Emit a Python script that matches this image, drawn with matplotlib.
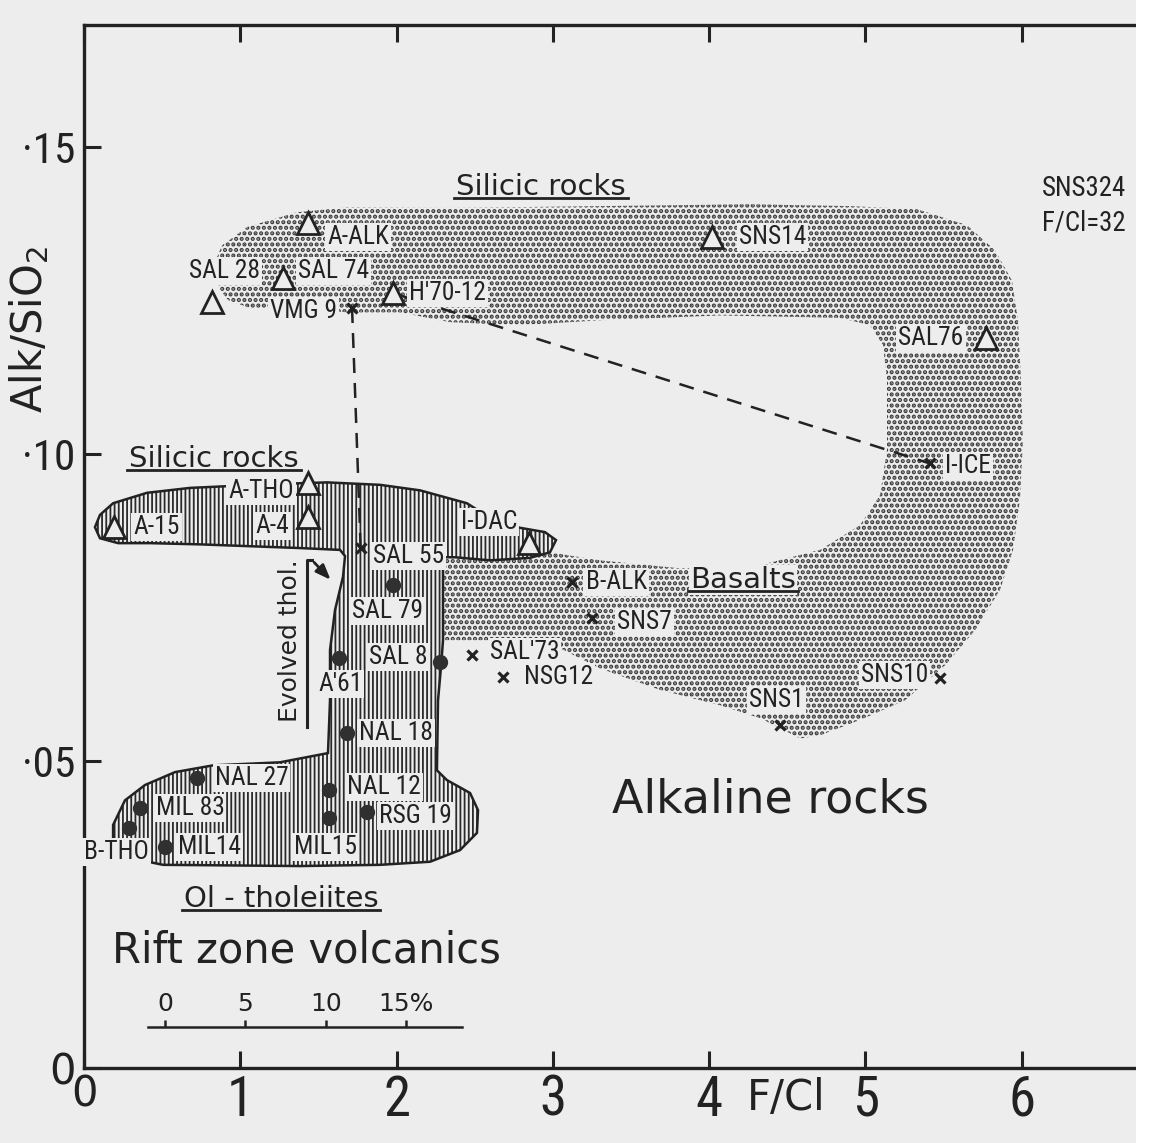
import matplotlib
matplotlib.use("Agg")
import matplotlib.pyplot as plt
from matplotlib import font_manager as fm
from matplotlib.patches import Polygon, Rectangle

# ── narrow lettering for sample names and tick digits ────────────────────────
_fonts = fm.fontManager.ttflist
_names = {f.name for f in _fonts}
if "Liberation Sans Narrow" in _names:
    NARROW, NS = dict(family="Liberation Sans Narrow"), 1.0
elif "Roboto Condensed" in _names:
    NARROW, NS = dict(family="Roboto Condensed"), 0.92
elif any(f.name == "DejaVu Sans" and f.stretch == "condensed" for f in _fonts):
    NARROW, NS = dict(family="DejaVu Sans", stretch="condensed"), 0.82
else:
    NARROW, NS = dict(family="DejaVu Sans"), 0.72
ROUND = "DejaVu Sans"

BG = "#ededed"
INK = "#222222"

# ── data: F/Cl vs Alk/SiO2 ───────────────────────────────────────────────────
tri_names = ["A-ALK", "SAL 28", "SAL 74", "H'70-12", "SNS14", "SAL76",
             "A-15", "A-THO", "A-4", "I-DAC"]
tri_fcl = [1.43, 0.82, 1.27, 1.98, 4.02, 5.77, 0.19, 1.43, 1.43, 2.85]
tri_alk = [0.1376, 0.1248, 0.1287, 0.1262, 0.1353, 0.1189,
           0.0881, 0.0953, 0.0897, 0.0855]

x_names = ["VMG 9", "I-ICE", "SAL 55", "SAL'73", "NSG12", "B-ALK",
           "SNS7", "SNS1", "SNS10"]
x_fcl = [1.715, 5.41, 1.77, 2.48, 2.68, 3.12, 3.25, 4.45, 5.48]
x_alk = [0.1238, 0.0985, 0.0847, 0.0673, 0.0637, 0.0792, 0.0733, 0.0559, 0.0635]

dot_names = ["SAL 79", "A'61", "SAL 8", "NAL 18", "NAL 27", "NAL 12",
             "MIL 83", "RSG 19", "B-THO", "MIL15", "MIL14"]
dot_fcl = [1.98, 1.63, 2.28, 1.68, 0.72, 1.57, 0.36, 1.81, 0.29, 1.57, 0.52]
dot_alk = [0.0787, 0.0668, 0.0661, 0.0546, 0.0472, 0.0453,
           0.0423, 0.0417, 0.0391, 0.0407, 0.0360]

# label offset (points) and alignment per sample
label_pos = {
    "A-ALK": (14, -10, "left"), "SAL 28": (9, 22, "center"),
    "SAL 74": (11, 5, "left"), "VMG 9": (-11, -2, "right"),
    "H'70-12": (11, 0, "left"), "SNS14": (19, 0, "left"),
    "SAL76": (-16, 0, "right"), "I-ICE": (11, -2, "left"),
    "A-15": (14, 0, "left"), "A-THO": (-10, -6, "right"),
    "A-4": (-13, -6, "right"), "I-DAC": (-9, 15, "right"),
    "SAL 55": (9, -6, "left"), "SAL 79": (-4, -19, "center"),
    "A'61": (1, -19, "center"), "SAL 8": (-9, 4, "right"),
    "SAL'73": (13, 2, "left"), "NSG12": (15, 0, "left"),
    "B-ALK": (10, 0, "left"), "SNS7": (18, -3, "left"),
    "SNS1": (-2, 18, "center"), "SNS10": (-9, 2, "right"),
    "NAL 18": (9, 0, "left"), "NAL 27": (13, 0, "left"),
    "NAL 12": (13, 2, "left"), "MIL 83": (11, 0, "left"),
    "RSG 19": (9, -3, "left"), "B-THO": (-9, -17, "center"),
    "MIL15": (-3, -21, "center"), "MIL14": (9, 0, "left"),
}

# stippled field: alkaline rocks (U-shaped band)
alk_fcl = [0.838, 0.883, 1.043, 1.363, 1.683, 2.342, 3.301, 4.261, 4.901, 5.329,
           5.649, 5.829, 5.937, 5.976, 5.995, 6.008, 5.988, 5.944, 5.861, 5.701,
           5.509, 5.253, 4.965, 4.709, 4.581, 4.325, 4.069, 3.685, 3.301, 3.045,
           2.790, 2.297, 2.297, 2.374, 2.598, 2.853, 2.981, 3.301, 3.813, 4.325,
           4.709, 4.965, 5.093, 5.138, 5.138, 5.112, 5.029, 4.837, 4.069, 3.301,
           2.790, 2.342, 2.022, 1.702, 1.382, 1.062, 0.921, 0.851]
alk_alk = [0.1313, 0.1340, 0.1370, 0.1394, 0.1402, 0.1401, 0.1404, 0.1407, 0.1404, 0.1399,
           0.1373, 0.1332, 0.1283, 0.1218, 0.1121, 0.1023, 0.0925, 0.0844, 0.0779, 0.0713,
           0.0656, 0.0599, 0.0567, 0.0542, 0.0537, 0.0570, 0.0591, 0.0616, 0.0651, 0.0684,
           0.0697, 0.0697, 0.0832, 0.0832, 0.0827, 0.0831, 0.0840, 0.0827, 0.0814, 0.0819,
           0.0844, 0.0884, 0.0933, 0.1007, 0.1121, 0.1178, 0.1210, 0.1222, 0.1226, 0.1218,
           0.1210, 0.1215, 0.1231, 0.1231, 0.1235, 0.1238, 0.1251, 0.1275]

# vertically hatched field: rift zone volcanics (T-shaped)
rift_fcl = [0.070, 0.102, 0.186, 0.403, 0.678, 0.934, 1.190, 1.555, 1.894, 2.150,
            2.450, 2.598, 2.790, 2.949, 3.020, 2.981, 2.853, 2.598, 2.374, 2.297,
            2.297, 2.284, 2.265, 2.258, 2.322, 2.470, 2.521, 2.514, 2.406, 2.214,
            1.894, 1.382, 0.505, 0.294, 0.186, 0.186, 0.262, 0.390, 0.582, 0.825,
            1.254, 1.561, 1.574, 1.574, 1.606, 1.657, 1.670, 1.638, 1.382, 1.062,
            0.742, 0.422, 0.218, 0.102]
rift_alk = [0.0881, 0.0901, 0.0920, 0.0937, 0.0945, 0.0948, 0.0951, 0.0954, 0.0950, 0.0941,
            0.0920, 0.0896, 0.0880, 0.0873, 0.0860, 0.0840, 0.0831, 0.0827, 0.0832, 0.0832,
            0.0697, 0.0653, 0.0599, 0.0485, 0.0469, 0.0448, 0.0420, 0.0383, 0.0355, 0.0336,
            0.0331, 0.0329, 0.0331, 0.0342, 0.0371, 0.0396, 0.0436, 0.0461, 0.0482, 0.0493,
            0.0498, 0.0513, 0.0599, 0.0681, 0.0746, 0.0800, 0.0834, 0.0844, 0.0847, 0.0850,
            0.0853, 0.0855, 0.0855, 0.0863]

# group labels: text, F/Cl centre, Alk/SiO2 baseline, size
groups = [
    ("Silicic rocks", 2.924, 0.1422, 21),
    ("Silicic rocks", 0.832, 0.0979, 21),
    ("Basalts", 4.216, 0.0782, 21),
    ("Ol - tholeiites", 1.260, 0.0262, 21),
]

# "Evolved thol." bracket and arrow tip
bracket_fcl = [1.427, 1.427, 1.46]
bracket_alk = [0.0555, 0.0827, 0.0827]
arrow_tip = (1.59, 0.0792)

pct_ticks = [0, 5, 10, 15]
pct_labels = ["0", "5", "10", "15%"]

# ── figure ───────────────────────────────────────────────────────────────────
fig = plt.figure(figsize=(11.51, 11.43), dpi=100, facecolor=BG)
fig.patches.append(Rectangle((0.987, 0), 0.02, 1, transform=fig.transFigure,
                             facecolor="white", edgecolor="none", zorder=0))
ax = fig.add_axes([0.073, 0.0656, 0.927, 0.9125])
ax.set_facecolor("none")
ax.set_xlim(0, 6.827)
ax.set_ylim(0, 0.1699)

with plt.rc_context({"hatch.linewidth": 2.1}):
    stip = Polygon(list(zip(alk_fcl, alk_alk)), closed=True, facecolor="none",
                   edgecolor="#3a3a3a", linewidth=0, hatch="...", zorder=1)
    if hasattr(stip, "set_hatch_linewidth"):
        stip.set_hatch_linewidth(2.1)
ax.add_patch(stip)
with plt.rc_context({"hatch.linewidth": 1.4}):
    rift = Polygon(list(zip(rift_fcl, rift_alk)), closed=True, facecolor="none",
                   edgecolor="#2a2a2a", linewidth=0, hatch="||||", zorder=1)
    if hasattr(rift, "set_hatch_linewidth"):
        rift.set_hatch_linewidth(1.3)
ax.add_patch(rift)
ax.add_patch(Polygon(list(zip(rift_fcl, rift_alk)), closed=True, facecolor="none",
                     edgecolor=INK, linewidth=1.8, zorder=2))

# dashed tie lines
i_h, i_ice = tri_names.index("H'70-12"), x_names.index("I-ICE")
ax.plot([tri_fcl[i_h], x_fcl[i_ice]], [tri_alk[i_h], x_alk[i_ice]],
        color=INK, lw=1.8, ls=(0, (6, 4)), zorder=2)
i_v, i_s = x_names.index("VMG 9"), x_names.index("SAL 55")
ax.plot([x_fcl[i_v], x_fcl[i_s]], [x_alk[i_v], x_alk[i_s]],
        color=INK, lw=1.8, ls=(0, (6, 4)), zorder=2)

# bracket + arrow for evolved tholeiites
ax.plot(bracket_fcl, bracket_alk, color=INK, lw=2.2, zorder=3)
ax.annotate("", xy=arrow_tip, xytext=(bracket_fcl[-1], bracket_alk[-1]),
            arrowprops=dict(arrowstyle="-|>,head_length=0.9,head_width=0.35",
                            color=INK, lw=2.0), zorder=3)
ax.text(1.318, 0.0697, "Evolved thol.", rotation=90, ha="center", va="center",
        fontsize=18, family=ROUND, color=INK, zorder=4)

# markers
ax.plot(tri_fcl, tri_alk, ls="none", marker="^", ms=16, mfc=BG, mec=INK,
        mew=2.0, zorder=5)
ax.plot(x_fcl, x_alk, ls="none", marker="x", ms=7, mec=INK, mew=2.3, zorder=5)
ax.plot(dot_fcl, dot_alk, ls="none", marker="o", ms=10, mfc="#303030",
        mec="#303030", zorder=5)

for names, xs, ys in [(tri_names, tri_fcl, tri_alk), (x_names, x_fcl, x_alk),
                      (dot_names, dot_fcl, dot_alk)]:
    for n, xv, yv in zip(names, xs, ys):
        dx, dy, ha = label_pos[n]
        ax.annotate(n, (xv, yv), xytext=(dx, dy), textcoords="offset points",
                    ha=ha, va="center", fontsize=20 * NS, color=INK, zorder=6,
                    bbox=dict(boxstyle="square,pad=0.08", fc=BG, ec="none"),
                    **NARROW)

ax.text(6.13, 0.1454, "SNS324\nF/Cl=32", ha="left", va="top", fontsize=21 * NS,
        color=INK, linespacing=1.35, zorder=6, **NARROW)

# big field names
ax.text(1.422, 0.01726, "Rift zone volcanics", ha="center", va="baseline",
        fontsize=30, family=ROUND, color=INK)
ax.text(4.395, 0.0417, "Alkaline rocks", ha="center", va="baseline",
        fontsize=33, family=ROUND, color=INK)

group_txt = []
for txt, gx, gy, fs in groups:
    group_txt.append(ax.text(gx, gy, txt, ha="center", va="baseline", fontsize=fs,
                             family=ROUND, color=INK, zorder=6,
                             bbox=dict(boxstyle="square,pad=0.05", fc=BG, ec="none")))

# ── axes styling ─────────────────────────────────────────────────────────────
for s in ["left", "bottom", "top"]:
    ax.spines[s].set_linewidth(2.4)
    ax.spines[s].set_color(INK)
ax.spines["right"].set_visible(False)

ax.set_xticks(range(0, 7))
ax.set_xticklabels([str(v) for v in range(0, 7)])
ax.set_yticks([0, 0.05, 0.10, 0.15])
ax.set_yticklabels(["0", "\u00b705", "\u00b710", "\u00b715"])
ax.tick_params(axis="both", direction="in", length=12, width=2.2, colors=INK)
ax.tick_params(axis="x", top=True, pad=4)
ax.tick_params(axis="y", right=False, pad=6)
for lab in ax.get_xticklabels():
    lab.set_fontsize(43 * NS)
    lab.set(**NARROW)
for lab in ax.get_yticklabels():
    lab.set_fontsize(34 * NS)
    lab.set(**NARROW)
ax.get_xticklabels()[0].set_fontsize(30)
ax.get_xticklabels()[0].set_family(ROUND)
ax.get_yticklabels()[0].set_fontsize(30)
ax.get_yticklabels()[0].set_family(ROUND)

ax.set_ylabel("Alk/SiO$_2$", fontsize=30, family=ROUND, color=INK)
ax.yaxis.set_label_coords(-0.031, 0.708)
ax.text(4.49, -0.0015, "F/Cl", ha="center", va="top", fontsize=30,
        family=ROUND, color=INK, transform=ax.transData)

# percentage scale
sub = ax.inset_axes([0.41, 0.0057, 2.01, 0.001], transform=ax.transData)
sub.set_facecolor("none")
sub.set_xlim(-1.06, 18.5)
sub.set_yticks([])
for s in ["left", "right", "bottom"]:
    sub.spines[s].set_visible(False)
sub.spines["top"].set_linewidth(1.8)
sub.spines["top"].set_color(INK)
sub.xaxis.tick_top()
sub.set_xticks(pct_ticks)
sub.set_xticklabels(pct_labels, fontsize=18, family=ROUND, color=INK)
sub.tick_params(axis="x", direction="out", length=5, width=1.8, pad=3, colors=INK)

# underline the group names
fig.canvas.draw()
rend = fig.canvas.get_renderer()
inv = ax.transData.inverted()
for t in group_txt:
    bb = t.get_window_extent(rend)
    (ux0, uy), (ux1, _) = inv.transform([[bb.x0 - 2, bb.y0 + 3], [bb.x1 + 2, bb.y0 + 3]])
    ax.plot([ux0, ux1], [uy, uy], color=INK, lw=2.0, zorder=7)

fig.savefig("out.png", dpi=100, facecolor=BG)
